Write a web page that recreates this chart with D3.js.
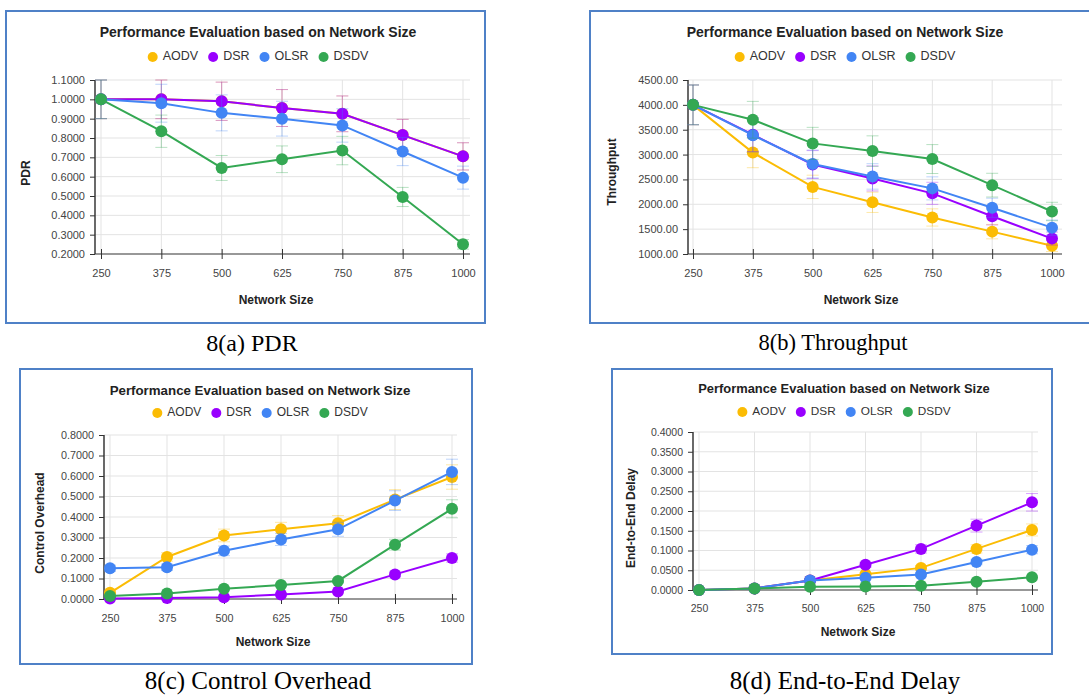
<!DOCTYPE html>
<html>
<head>
<meta charset="utf-8">
<script src="https://cdn.jsdelivr.net/npm/d3@7"></script>
<style>
  body { margin: 0; background: #fff; }
  text { font-family: Arial, "Liberation Sans", sans-serif; }
</style>
</head>
<body>
<div id="chart"></div>
<script>
(function(){
    // categories and series
    const sizes = ["250", "375", "500", "625", "750", "875", "1000"];
    const protocols = ["AODV", "DSR", "OLSR", "DSDV"];
    const colors = ["#fbbc04", "#9900ff", "#4285f4", "#34a853"];
    const errFraction = 0.1; // error bars are +/- 10% of each value

    // 8(a) PDR (AODV sits under DSR)
    const pdrAODV = [1.0, 1.0, 0.99, 0.955, 0.925, 0.815, 0.705];
    const pdrDSR  = [1.0, 1.0, 0.99, 0.955, 0.925, 0.815, 0.705];
    const pdrOLSR = [1.0, 0.98, 0.93, 0.90, 0.865, 0.73, 0.595];
    const pdrDSDV = [1.0, 0.835, 0.645, 0.69, 0.735, 0.495, 0.25];

    // 8(b) Throughput
    const thrAODV = [4000, 3040, 2350, 2040, 1735, 1450, 1165];
    const thrDSR  = [4000, 3400, 2800, 2520, 2220, 1760, 1310];
    const thrOLSR = [4000, 3390, 2810, 2560, 2320, 1930, 1530];
    const thrDSDV = [4000, 3700, 3225, 3070, 2910, 2385, 1855];

    // 8(c) Control Overhead
    const ohAODV = [0.03, 0.205, 0.31, 0.34, 0.37, 0.485, 0.595];
    const ohDSR  = [0.003, 0.005, 0.008, 0.022, 0.037, 0.12, 0.2];
    const ohOLSR = [0.15, 0.155, 0.235, 0.29, 0.34, 0.48, 0.62];
    const ohDSDV = [0.015, 0.027, 0.05, 0.068, 0.088, 0.265, 0.44];

    // 8(d) End-to-End Delay
    const dlAODV = [0.0, 0.004, 0.024, 0.04, 0.056, 0.104, 0.152];
    const dlDSR  = [0.0, 0.004, 0.024, 0.064, 0.104, 0.163, 0.222];
    const dlOLSR = [0.0, 0.004, 0.024, 0.031, 0.039, 0.071, 0.102];
    const dlDSDV = [0.0, 0.004, 0.008, 0.009, 0.011, 0.021, 0.032];

    const title = "Performance Evaluation based on Network Size";

    // layout of each panel on the page (each sub-figure was pasted at a slightly different scale)
    const panels = [
        { box: [6, 11, 479, 312], axisX: 95, xr: [101, 463], gridEnd: 470, yr: [254, 80],
          dom: [0.2, 1.1], step: 0.1, fmt: ".4f", yLabel: "PDR", yLabelX: 27, yLabelY: 173,
          titleY: 33, cx: 258, legendY: 57, titleSize: 14, legendSize: 12.5, tickSize: 11,
          xLabelX: 276, xLabelY: 301,
          caption: "8(a) PDR", capX: 252, capY: 345, capSize: 24,
          data: [pdrAODV, pdrDSR, pdrOLSR, pdrDSDV] },
        { box: [590, 11, 530, 312], axisX: 688, xr: [693, 1052], gridEnd: 1062, yr: [254, 80],
          dom: [1000, 4500], step: 500, fmt: ".2f", yLabel: "Throughput", yLabelX: 613, yLabelY: 172,
          titleY: 33, cx: 845, legendY: 57, titleSize: 14, legendSize: 12.5, tickSize: 11,
          xLabelX: 861, xLabelY: 301,
          caption: "8(b) Throughput", capX: 833, capY: 345, capSize: 22.5,
          data: [thrAODV, thrDSR, thrOLSR, thrDSDV] },
        { box: [20, 369, 452, 295], axisX: 104, xr: [110, 452], gridEnd: 457, yr: [599, 435],
          dom: [0, 0.8], step: 0.1, fmt: ".4f", yLabel: "Control Overhead", yLabelX: 41, yLabelY: 523,
          titleY: 391, cx: 260, legendY: 413, titleSize: 13.3, legendSize: 12, tickSize: 10.8,
          xLabelX: 273, xLabelY: 643,
          caption: "8(c) Control Overhead", capX: 258, capY: 683, capSize: 25,
          data: [ohAODV, ohDSR, ohOLSR, ohDSDV] },
        { box: [612, 369, 440, 285], axisX: 693, xr: [699, 1032], gridEnd: 1038, yr: [590, 432],
          dom: [0, 0.4], step: 0.05, fmt: ".4f", yLabel: "End-to-End Delay", yLabelX: 632, yLabelY: 518,
          titleY: 390, cx: 844, legendY: 412, titleSize: 12.9, legendSize: 11.8, tickSize: 10.5,
          xLabelX: 858, xLabelY: 633,
          caption: "8(d) End-to-End Delay", capX: 845, capY: 683, capSize: 25,
          data: [dlAODV, dlDSR, dlOLSR, dlDSDV] }
    ];

    const svg = d3.select("#chart").append("svg")
        .attr("width", 1089)
        .attr("height", 695);

    svg.append("rect").attr("width", 1089).attr("height", 695).attr("fill", "#fff");

    panels.forEach(function(p) {
        const g = svg.append("g");

        // frame
        g.append("rect")
            .attr("x", p.box[0]).attr("y", p.box[1])
            .attr("width", p.box[2]).attr("height", p.box[3])
            .attr("fill", "#fff")
            .attr("stroke", "#4f81c7")
            .attr("stroke-width", 2);

        const x = d3.scalePoint().domain(sizes).range(p.xr);
        const y = d3.scaleLinear().domain(p.dom).range(p.yr);
        const ticks = d3.range(0, Math.round((p.dom[1] - p.dom[0]) / p.step) + 1)
            .map(i => p.dom[0] + i * p.step);

        // horizontal gridlines
        g.append("g").selectAll("line")
            .data(ticks.slice(1))
            .join("line")
            .attr("x1", p.axisX).attr("x2", p.gridEnd)
            .attr("y1", d => y(d)).attr("y2", d => y(d))
            .attr("stroke", "#e3e3e3");

        // vertical gridlines
        g.append("g").selectAll("line")
            .data(sizes)
            .join("line")
            .attr("x1", d => x(d)).attr("x2", d => x(d))
            .attr("y1", p.yr[1]).attr("y2", p.yr[0])
            .attr("stroke", "#e3e3e3");

        // y axis
        const yAxis = g.append("g")
            .attr("transform", `translate(${p.axisX},0)`)
            .call(d3.axisLeft(y).tickValues(ticks).tickFormat(d3.format(p.fmt)).tickSize(5).tickPadding(5));
        yAxis.select(".domain").attr("stroke", "#444").attr("stroke-width", 1.6).attr("d", `M0,${p.yr[1]}V${p.yr[0]}`);
        yAxis.selectAll(".tick line").attr("stroke", "#333");
        yAxis.selectAll(".tick text").attr("fill", "#444").style("font-size", p.tickSize + "px");

        // x axis (baseline with ticks crossing it)
        const xAxis = g.append("g")
            .attr("transform", `translate(0,${p.yr[0]})`)
            .call(d3.axisBottom(x).tickSize(5).tickPadding(10));
        xAxis.select(".domain").attr("stroke", "#333").attr("stroke-width", 1.2)
            .attr("d", `M${p.axisX},0H${p.gridEnd}`);
        xAxis.selectAll(".tick line").attr("stroke", "#333").attr("y1", -5).attr("y2", 5);
        xAxis.selectAll(".tick text").attr("fill", "#444").style("font-size", p.tickSize + "px");

        // title
        g.append("text")
            .attr("x", p.cx).attr("y", p.titleY)
            .attr("text-anchor", "middle").attr("dominant-baseline", "middle")
            .style("font-size", p.titleSize + "px").style("font-weight", "bold").attr("fill", "#222")
            .text(title);

        // legend
        const legend = g.append("g");
        let lx = 0;
        protocols.forEach(function(name, i) {
            legend.append("circle").attr("cx", lx + 5).attr("cy", 0).attr("r", 5).attr("fill", colors[i]);
            const t = legend.append("text")
                .attr("x", lx + 15).attr("y", 0)
                .attr("dominant-baseline", "middle")
                .style("font-size", p.legendSize + "px").attr("fill", "#333")
                .text(name);
            lx += 15 + t.node().getComputedTextLength() + 10;
        });
        lx -= 10;
        legend.attr("transform", `translate(${p.cx - lx / 2},${p.legendY})`);

        // axis titles
        g.append("text")
            .attr("x", p.xLabelX).attr("y", p.xLabelY)
            .attr("text-anchor", "middle").attr("dominant-baseline", "middle")
            .style("font-size", "12px").style("font-weight", "bold").attr("fill", "#222")
            .text("Network Size");
        g.append("text")
            .attr("transform", `translate(${p.yLabelX},${p.yLabelY}) rotate(-90)`)
            .attr("text-anchor", "middle").attr("dominant-baseline", "middle")
            .style("font-size", "12px").style("font-weight", "bold").attr("fill", "#222")
            .text(p.yLabel);

        // series
        const line = d3.line().x((d, i) => x(sizes[i])).y(d => y(d));
        p.data.forEach(function(values, s) {
            const col = colors[s];
            const eb = g.append("g").attr("stroke", col).attr("stroke-opacity", 0.35).attr("stroke-width", 1);
            values.forEach(function(v, i) {
                const cxp = x(sizes[i]);
                const lo = y(v * (1 - errFraction)), hi = y(v * (1 + errFraction));
                eb.append("line").attr("x1", cxp).attr("x2", cxp).attr("y1", lo).attr("y2", hi);
                eb.append("line").attr("x1", cxp - 6).attr("x2", cxp + 6).attr("y1", lo).attr("y2", lo);
                eb.append("line").attr("x1", cxp - 6).attr("x2", cxp + 6).attr("y1", hi).attr("y2", hi);
            });
            g.append("path")
                .datum(values)
                .attr("d", line)
                .attr("fill", "none")
                .attr("stroke", col)
                .attr("stroke-width", 2);
            g.append("g").selectAll("circle")
                .data(values)
                .join("circle")
                .attr("cx", (d, i) => x(sizes[i]))
                .attr("cy", d => y(d))
                .attr("r", 6)
                .attr("fill", col);
        });

        // caption below the frame
        svg.append("text")
            .attr("x", p.capX).attr("y", p.capY)
            .attr("text-anchor", "middle").attr("dominant-baseline", "middle")
            .style("font-family", "'Liberation Serif', 'Times New Roman', serif")
            .style("font-size", p.capSize + "px").attr("fill", "#000")
            .text(p.caption);
    });
})();
</script>
</body>
</html>
